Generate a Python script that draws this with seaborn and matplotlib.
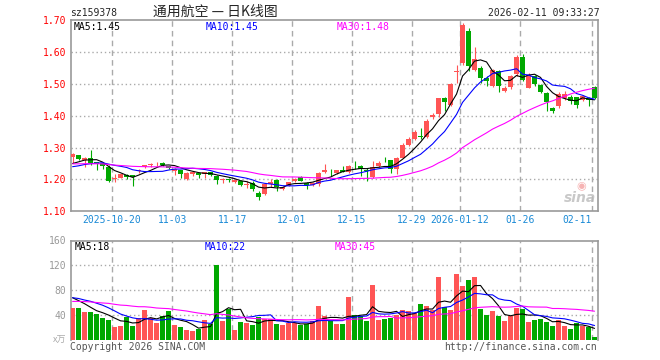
import numpy as np
import pandas as pd
import matplotlib
matplotlib.use('Agg')
import matplotlib.pyplot as plt
import seaborn as sns

# -----------------------------
# Data
# -----------------------------
opens = [1.272, 1.276, 1.262, 1.269, 1.254, 1.252, 1.240, 1.200, 1.206, 1.215,
         1.214, 1.226, 1.240, 1.247, 1.251, 1.251, 1.241, 1.228, 1.230, 1.201,
         1.217, 1.220, 1.217, 1.222, 1.211, 1.199, 1.200, 1.193, 1.196, 1.182,
         1.188, 1.159, 1.154, 1.185, 1.199, 1.170, 1.180, 1.196, 1.208, 1.190,
         1.183, 1.185, 1.224, 1.221, 1.219, 1.230, 1.222, 1.246, 1.243, 1.229,
         1.208, 1.241, 1.259, 1.260, 1.234, 1.269, 1.308, 1.326, 1.335, 1.333,
         1.397, 1.405, 1.457, 1.434, 1.538, 1.567, 1.666, 1.543, 1.551, 1.520,
         1.494, 1.541, 1.478, 1.489, 1.530, 1.586, 1.488, 1.524, 1.496, 1.472,
         1.423, 1.430, 1.456, 1.458, 1.458, 1.451, 1.456, 1.490]
closes = [1.279, 1.264, 1.269, 1.251, 1.248, 1.241, 1.196, 1.204, 1.216, 1.209,
          1.208, 1.231, 1.244, 1.250, 1.253, 1.245, 1.236, 1.234, 1.217, 1.220,
          1.222, 1.215, 1.222, 1.215, 1.199, 1.203, 1.197, 1.199, 1.182, 1.185,
          1.170, 1.144, 1.185, 1.193, 1.175, 1.175, 1.191, 1.201, 1.196, 1.182,
          1.188, 1.220, 1.229, 1.219, 1.229, 1.225, 1.243, 1.244, 1.232, 1.226,
          1.238, 1.251, 1.257, 1.232, 1.269, 1.309, 1.328, 1.349, 1.332, 1.385,
          1.402, 1.457, 1.442, 1.499, 1.541, 1.686, 1.556, 1.577, 1.518, 1.509,
          1.543, 1.494, 1.486, 1.525, 1.585, 1.514, 1.529, 1.500, 1.475, 1.444,
          1.415, 1.469, 1.469, 1.448, 1.435, 1.461, 1.451, 1.456]
highs = [1.284, 1.278, 1.272, 1.291, 1.256, 1.254, 1.244, 1.217, 1.218, 1.217,
         1.215, 1.234, 1.246, 1.253, 1.255, 1.254, 1.243, 1.236, 1.231, 1.224,
         1.225, 1.221, 1.224, 1.223, 1.213, 1.206, 1.205, 1.201, 1.197, 1.196,
         1.196, 1.163, 1.187, 1.201, 1.203, 1.180, 1.193, 1.206, 1.210, 1.192,
         1.192, 1.222, 1.248, 1.232, 1.231, 1.243, 1.245, 1.258, 1.245, 1.236,
         1.258, 1.257, 1.271, 1.262, 1.271, 1.313, 1.333, 1.354, 1.362, 1.389,
         1.410, 1.457, 1.459, 1.503, 1.561, 1.692, 1.676, 1.616, 1.555, 1.525,
         1.546, 1.544, 1.494, 1.528, 1.590, 1.594, 1.533, 1.529, 1.500, 1.475,
         1.429, 1.475, 1.477, 1.466, 1.460, 1.466, 1.460, 1.495]
lows = [1.251, 1.262, 1.240, 1.247, 1.229, 1.232, 1.191, 1.193, 1.204, 1.203,
        1.180, 1.219, 1.236, 1.238, 1.243, 1.243, 1.233, 1.213, 1.206, 1.198,
        1.212, 1.206, 1.206, 1.212, 1.185, 1.190, 1.193, 1.190, 1.178, 1.172,
        1.165, 1.135, 1.150, 1.177, 1.165, 1.166, 1.178, 1.193, 1.194, 1.170,
        1.180, 1.178, 1.221, 1.211, 1.217, 1.222, 1.221, 1.232, 1.211, 1.194,
        1.206, 1.239, 1.254, 1.219, 1.217, 1.267, 1.305, 1.323, 1.328, 1.331,
        1.390, 1.395, 1.416, 1.430, 1.504, 1.561, 1.541, 1.541, 1.504, 1.494,
        1.489, 1.476, 1.475, 1.485, 1.524, 1.508, 1.486, 1.493, 1.472, 1.415,
        1.410, 1.425, 1.450, 1.437, 1.425, 1.447, 1.430, 1.452]
volumes = [51.7, 51.7, 45.3, 45.3, 41.6, 35.7, 32.5, 21.3, 22.9, 37.3,
           22.9, 35.7, 48.0, 35.7, 27.2, 38.9, 46.9, 24.5, 21.3, 16.5,
           14.9, 18.1, 32.5, 26.1, 120.5, 30.9, 49.6, 16.5, 29.3, 27.7,
           24.5, 37.3, 34.1, 34.1, 26.1, 24.5, 27.7, 27.7, 23.5, 26.1,
           30.9, 54.9, 38.9, 30.9, 25.6, 25.6, 69.3, 40.0, 38.4, 30.9,
           89.0, 32.0, 33.6, 35.7, 40.0, 48.0, 46.4, 42.7, 57.6, 54.4,
           48.0, 100.8, 52.3, 48.0, 105.6, 86.4, 96.0, 100.8, 49.6, 40.0,
           46.4, 38.4, 30.9, 38.9, 51.2, 49.6, 29.3, 32.0, 33.6, 29.3,
           22.4, 32.0, 22.4, 17.6, 26.7, 22.4, 21.3, 5.3]

# sessions before the window, only used to seed the moving averages
close_before = [1.262, 1.258, 1.255, 1.249, 1.251, 1.256, 1.260, 1.254, 1.248, 1.245,
                1.250, 1.257, 1.261, 1.255, 1.252, 1.249, 1.253, 1.258, 1.250, 1.247,
                1.236, 1.228, 1.225, 1.231, 1.230, 1.238, 1.242, 1.246, 1.246]
volume_before = [48, 55, 62, 70, 58, 52, 66, 61, 54, 57, 63, 50, 59, 64, 56, 60, 67, 58,
                 53, 67, 64, 70, 66, 72, 68, 75, 70, 74, 69]

date_pos = [7, 17, 27, 37, 47, 57, 65, 75, 87]
date_labels = ['2025-10-20', '11-03', '11-17', '12-01', '12-15', '12-29',
               '2026-01-12', '01-26', '02-11']
price_ticks = [1.10, 1.20, 1.30, 1.40, 1.50, 1.60, 1.70]
vol_ticks = [40, 80, 120, 160]
price_ma_text = ['MA5:1.45', 'MA10:1.45', 'MA30:1.48']
vol_ma_text = ['MA5:18', 'MA10:22', 'MA30:45']

RED = '#ff5555'
GREEN = '#00a800'
MA_COLORS = ['black', '#0000ff', '#ff00ff']
GRID = '#aaaaaa'
SPINE = '#999999'

# -----------------------------
# Frame + moving averages
# -----------------------------
df = pd.DataFrame({'day': np.arange(len(closes)), 'open': opens, 'close': closes,
                   'high': highs, 'low': lows, 'volume': volumes})
df['up'] = df['close'] >= df['open']
n_before = len(close_before)
all_close = pd.Series(close_before + closes)
all_vol = pd.Series(volume_before + volumes)
for n in [5, 10, 30]:
    df[f'ma{n}'] = all_close.rolling(n).mean().iloc[n_before:].values
    df[f'vma{n}'] = all_vol.rolling(n).mean().iloc[n_before:].values

sns.set_style('white')
plt.rcParams['font.family'] = ['DejaVu Sans Mono', 'Noto Sans CJK SC']

W, H = 660, 360
fig = plt.figure(figsize=(6.6, 3.6), dpi=100)


def px_rect(x0, y0, x1, y1):
    return [x0 / W, 1 - y1 / H, (x1 - x0) / W, (y1 - y0) / H]


def ftext(x, y, s, **kw):
    fig.text(x / W, 1 - y / H, s, **kw)


ax = fig.add_axes(px_rect(70.5, 20.3, 597.7, 211.3))
axv = fig.add_axes(px_rect(70.5, 240.5, 597.7, 340))

XLIM = (-0.35, 87.53)
grid_x = [p - 0.42 for p in date_pos]
cols = [RED if u else GREEN for u in df['up']]

# -----------------------------
# Candles
# -----------------------------
for g in grid_x:
    ax.axvline(g, color=GRID, lw=1, ls=(0, (4, 3)), zorder=0)
    axv.axvline(g, color=GRID, lw=1, ls=(0, (4, 3)), zorder=0)
for t in price_ticks[1:-1]:
    ax.axhline(t, color=GRID, lw=1, ls=(0, (1, 2)), zorder=0)

ax.vlines(df['day'], df['low'], df['high'], colors=cols, lw=0.8, zorder=2)
body = np.maximum((df['close'] - df['open']).abs(), 0.002)
ax.bar(df['day'], body, bottom=np.minimum(df['open'], df['close']), width=0.83,
       color=cols, linewidth=0, zorder=3)

for n, c in zip([5, 10, 30], MA_COLORS):
    sns.lineplot(x=df['day'], y=df[f'ma{n}'], ax=ax, color=c, lw=0.8, zorder=4)

ax.set_xlim(*XLIM)
ax.set_ylim(1.10, 1.70)
ax.set_yticks(price_ticks, [f'{t:.2f}' for t in price_ticks])
ax.set_xticks(grid_x, date_labels)
ax.xaxis.get_ticklabels()[-1].set_ha('right')
ax.tick_params(axis='y', length=0, pad=3, labelcolor='#ff0000', labelsize=7)
ax.tick_params(axis='x', length=0, pad=3, labelcolor='#1a8ad6', labelsize=7)
ax.set_xlabel('')
ax.set_ylabel('')
for s in ax.spines.values():
    s.set_color(SPINE)
    s.set_linewidth(1.2)

# -----------------------------
# Volume
# -----------------------------
for t in vol_ticks[:-1]:
    axv.axhline(t, color=GRID, lw=1, ls=(0, (1, 2)), zorder=0)
sns.barplot(data=df, x='day', y='volume', hue='up', palette={True: RED, False: GREEN},
            native_scale=True, dodge=False, width=0.83, saturation=1, errorbar=None,
            legend=False, linewidth=0, ax=axv, zorder=3)
for n, c in zip([5, 10, 30], MA_COLORS):
    sns.lineplot(x=df['day'], y=df[f'vma{n}'], ax=axv, color=c, lw=0.8, zorder=4)

axv.set_xlim(*XLIM)
axv.set_ylim(0, 160)
axv.set_yticks(vol_ticks, [str(t) for t in vol_ticks])
axv.set_xticks([])
axv.tick_params(axis='y', length=0, pad=3, labelcolor='#999999', labelsize=7)
axv.set_xlabel('')
axv.set_ylabel('')
for s in axv.spines.values():
    s.set_color(SPINE)
    s.set_linewidth(1.2)
axv.spines['bottom'].set_visible(False)

# -----------------------------
# Texts
# -----------------------------
ftext(70, 13, 'sz159378', fontsize=7, va='center', ha='left')
ftext(215, 12, '通用航空 — 日K线图', fontsize=10, va='center', ha='center',
      family=['Noto Sans CJK SC', 'DejaVu Sans'])
ftext(600, 13, '2026-02-11 09:33:27', fontsize=7, va='center', ha='right')
for x, s, c in zip([74, 206, 337], price_ma_text, MA_COLORS):
    ftext(x, 27, s, fontsize=7, va='center', ha='left', color=c)
for x, s, c in zip([75, 205, 335], vol_ma_text, MA_COLORS):
    ftext(x, 247, s, fontsize=7, va='center', ha='left', color=c)
ftext(66, 340, 'x万', fontsize=6.5, va='center', ha='right', color='#aaaaaa',
      family=['Noto Sans CJK SC', 'DejaVu Sans'])
ftext(70, 347, 'Copyright 2026 SINA.COM', fontsize=7, va='center', ha='left', color='#555555')
ftext(597, 347, 'http://finance.sina.com.cn', fontsize=7, va='center', ha='right', color='#555555')
ftext(580, 198, 'sina', fontsize=10, va='center', ha='center', color='#bbbbbb',
      style='italic', weight='bold', family='DejaVu Sans', alpha=0.8)
ftext(581, 186, '◉', fontsize=8, va='center', ha='center', color='#f4a0a0',
      family='DejaVu Sans', alpha=0.8)

fig.savefig('out.png', dpi=100)
